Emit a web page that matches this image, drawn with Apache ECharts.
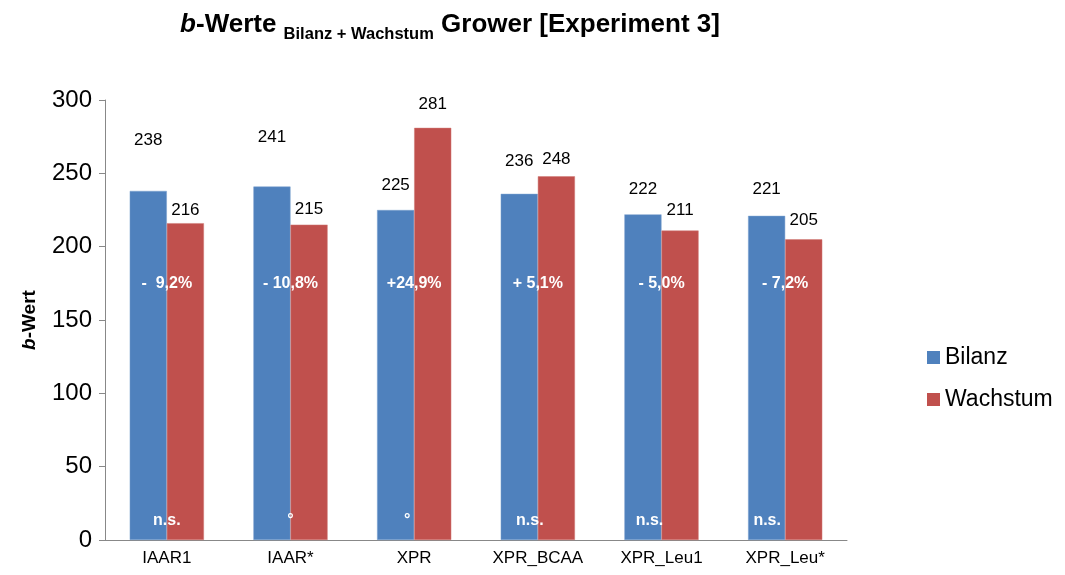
<!DOCTYPE html>
<html>
<head>
<meta charset="utf-8">
<script src="https://cdn.jsdelivr.net/npm/echarts@6/dist/echarts.min.js"></script>
<style>
  html, body { margin: 0; padding: 0; background: #fff; }
  #chart { width: 1065px; height: 575px; }
</style>
</head>
<body>
<div id="chart"></div>
<script>
var categories = ['IAAR1', 'IAAR*', 'XPR', 'XPR_BCAA', 'XPR_Leu1', 'XPR_Leu*'];
var bilanz = [238, 241, 225, 236, 222, 221];
var wachstum = [216, 215, 281, 248, 211, 205];
var diffLabels = ['-  9,2%', '- 10,8%', '+24,9%', '+ 5,1%', '- 5,0%', '- 7,2%'];
var sigLabels = ['n.s.', '°', '°', 'n.s.', 'n.s.', 'n.s.'];

// the value labels were moved by hand in the original, so each one gets its own lift
var bilanzLift = [42, 41, 16, 24, 17, 18];
var wachstumLift = [4, 7, 15, 8, 12, 11];
var sigShift = [0, 0, -7, -8, -12, -18];

var font = '"Liberation Sans", Arial, sans-serif';

function barData(values, lift) {
    return values.map(function (v, i) {
        return { value: v, label: { distance: lift[i] } };
    });
}

var chart = echarts.init(document.getElementById('chart'));
var option = {
    animation: false,
    title: {
        text: '{i|b}{b|-Werte }{s|Bilanz + Wachstum}{b| Grower [Experiment 3]}',
        left: 445,
        textAlign: 'center',
        top: 7,
        textStyle: {
            rich: {
                i: { fontFamily: font, fontSize: 26, fontWeight: 'bold', fontStyle: 'italic', color: '#000', verticalAlign: 'bottom' },
                b: { fontFamily: font, fontSize: 26, fontWeight: 'bold', color: '#000', verticalAlign: 'bottom' },
                s: { fontFamily: font, fontSize: 16.5, fontWeight: 'bold', color: '#000', padding: [0, 0, -5, 0], verticalAlign: 'bottom' }
            }
        }
    },
    legend: {
        data: ['Bilanz', 'Wachstum'],
        orient: 'vertical',
        left: 922,
        top: 341,
        itemWidth: 13,
        itemHeight: 13,
        itemGap: 19,
        icon: 'rect',
        itemStyle: { borderWidth: 0 },
        textStyle: { fontFamily: font, fontSize: 23, color: '#000' }
    },
    grid: { left: 105, right: 218, top: 100, bottom: 35 },
    xAxis: {
        type: 'category',
        data: categories,
        axisLine: { lineStyle: { color: '#888' } },
        axisTick: { length: 5, lineStyle: { color: '#888' } },
        axisLabel: { fontFamily: font, fontSize: 17, color: '#000', margin: 10 }
    },
    yAxis: {
        type: 'value',
        min: 0,
        max: 300,
        interval: 50,
        name: '{i|b}{b|-Wert}',
        nameLocation: 'middle',
        nameGap: 66,
        nameTextStyle: {
            rich: {
                i: { fontFamily: font, fontSize: 19, fontWeight: 'bold', fontStyle: 'italic', color: '#000' },
                b: { fontFamily: font, fontSize: 19, fontWeight: 'bold', color: '#000' }
            }
        },
        axisLine: { show: true, lineStyle: { color: '#888' } },
        axisTick: { show: true, length: 6, lineStyle: { color: '#888' } },
        splitLine: { show: false },
        axisLabel: { fontFamily: font, fontSize: 24, color: '#000', margin: 13 }
    },
    series: [
        {
            name: 'Bilanz',
            type: 'bar',
            barWidth: '30%',
            barGap: '0%',
            itemStyle: { color: '#4F81BD', borderColor: '#7aa0cf', borderWidth: 0.5 },
            label: { show: true, position: 'top', fontFamily: font, fontSize: 17, color: '#000' },
            data: barData(bilanz, bilanzLift)
        },
        {
            name: 'Wachstum',
            type: 'bar',
            barWidth: '30%',
            itemStyle: { color: '#C0504D', borderColor: '#d07a77', borderWidth: 0.5 },
            label: { show: true, position: 'top', fontFamily: font, fontSize: 17, color: '#000' },
            data: barData(wachstum, wachstumLift)
        },
        {
            name: 'diff',
            type: 'scatter',
            symbolSize: 0,
            silent: true,
            z: 5,
            itemStyle: { opacity: 1 },
            label: {
                show: true,
                position: 'inside',
                fontFamily: font,
                fontSize: 16,
                fontWeight: 'bold',
                color: '#ffffff',
                opacity: 1,
                textBorderWidth: 0,
                formatter: function (p) { return diffLabels[p.dataIndex]; }
            },
            data: categories.map(function (c) { return [c, 175]; })
        },
        {
            name: 'sig',
            type: 'scatter',
            symbolSize: 0,
            silent: true,
            z: 5,
            itemStyle: { opacity: 1 },
            label: {
                show: true,
                position: 'inside',
                fontFamily: font,
                fontSize: 16,
                fontWeight: 'bold',
                color: '#ffffff',
                opacity: 1,
                textBorderWidth: 0,
                formatter: function (p) { return sigLabels[p.dataIndex]; }
            },
            data: categories.map(function (c, i) {
                return { value: [c, 13], label: { offset: [sigShift[i], 0] } };
            })
        }
    ]
};
chart.setOption(option);
</script>
</body>
</html>
